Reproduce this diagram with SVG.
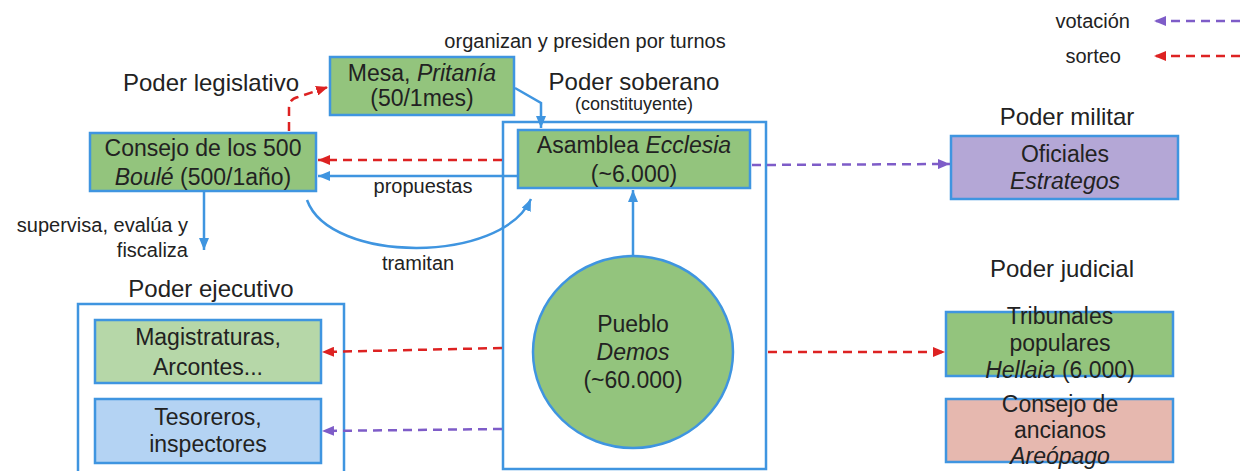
<svg xmlns="http://www.w3.org/2000/svg" width="1240" height="471" viewBox="0 0 1240 471">
<style>
text{font-family:"Liberation Sans",Arial,sans-serif;fill:#222;}
.t{font-size:23px;text-anchor:middle;}
.h{font-size:24px;text-anchor:middle;}
.l{font-size:20px;}
.i{font-style:italic;}
.box{stroke:#3f95e0;stroke-width:2.5;}
.cont{fill:#fff;stroke:#3f95e0;stroke-width:2.5;}
.g{fill:#93c47d;}
.lg{fill:#b6d7a8;}
.lb{fill:#b4d3f3;}
.pu{fill:#b4a7d6;}
.pk{fill:#e6b8af;}
.cb{fill:none;stroke:#3f95e0;stroke-width:2.5;}
.cr{fill:none;stroke:#dd2222;stroke-width:2.5;stroke-dasharray:9 6;}
.cp{fill:none;stroke:#7e5cc8;stroke-width:2.5;stroke-dasharray:9 6;}
</style>
<defs>
<marker id="ab" viewBox="0 0 12 10" refX="12" refY="5" markerWidth="12" markerHeight="10" markerUnits="userSpaceOnUse" orient="auto"><path d="M0,0 L12,5 L0,10 z" fill="#3f95e0"/></marker>
<marker id="ar" viewBox="0 0 12 10" refX="12" refY="5" markerWidth="12" markerHeight="10" markerUnits="userSpaceOnUse" orient="auto"><path d="M0,0 L12,5 L0,10 z" fill="#dd2222"/></marker>
<marker id="ap" viewBox="0 0 12 10" refX="12" refY="5" markerWidth="12" markerHeight="10" markerUnits="userSpaceOnUse" orient="auto"><path d="M0,0 L12,5 L0,10 z" fill="#7e5cc8"/></marker>
</defs>

<!-- legend -->
<g id="legend">
<text class="l" x="1130" y="28" text-anchor="end">votación</text>
<text class="l" x="1121" y="63" text-anchor="end">sorteo</text>
<path class="cp" d="M1240,21 L1154,21" marker-end="url(#ap)"/>
<path class="cr" d="M1240,56 L1154,56" marker-end="url(#ar)"/>
</g>

<!-- titles -->
<g id="titles">
<text class="l" x="585" y="48" text-anchor="middle">organizan y presiden por turnos</text>
<text class="h" x="211" y="91">Poder legislativo</text>
<text class="h" x="634" y="90">Poder soberano</text>
<text x="634" y="110" style="font-size:18px;text-anchor:middle">(constituyente)</text>
<text class="h" x="1067" y="125">Poder militar</text>
<text class="h" x="1062" y="277">Poder judicial</text>
<text class="h" x="211" y="297">Poder ejecutivo</text>
</g>

<!-- containers -->
<g id="soberano"><rect class="cont" x="503" y="122" width="263" height="347"/></g>
<g id="ejecutivo"><rect class="cont" x="78" y="304" width="266" height="180"/></g>

<!-- nodes -->
<g id="mesa">
<rect class="box g" x="330" y="57" width="184" height="58"/>
<text class="t" x="422" y="81">Mesa, <tspan class="i">Pritanía</tspan></text>
<text class="t" x="422" y="106">(50/1mes)</text>
</g>
<g id="consejo500">
<rect class="box g" x="90" y="133" width="226" height="58"/>
<text class="t" x="203" y="156">Consejo de los 500</text>
<text class="t" x="203" y="185"><tspan class="i">Boulé</tspan> (500/1año)</text>
</g>
<g id="asamblea">
<rect class="box g" x="518" y="130" width="232" height="58"/>
<text class="t" x="634" y="153">Asamblea <tspan class="i">Ecclesia</tspan></text>
<text class="t" x="634" y="182">(~6.000)</text>
</g>
<g id="pueblo">
<ellipse class="box g" cx="633" cy="352" rx="100" ry="96"/>
<text class="t" x="633" y="332">Pueblo</text>
<text class="t i" x="633" y="360">Demos</text>
<text class="t" x="633" y="388">(~60.000)</text>
</g>
<g id="oficiales">
<rect class="box pu" x="951" y="136" width="227" height="63"/>
<text class="t" x="1065" y="162">Oficiales</text>
<text class="t i" x="1065" y="189">Estrategos</text>
</g>
<g id="magistraturas">
<rect class="box lg" x="95" y="320" width="226" height="63"/>
<text class="t" x="208" y="345">Magistraturas,</text>
<text class="t" x="208" y="375">Arcontes...</text>
</g>
<g id="tesoreros">
<rect class="box lb" x="95" y="399" width="226" height="64"/>
<text class="t" x="208" y="425">Tesoreros,</text>
<text class="t" x="208" y="452">inspectores</text>
</g>
<g id="tribunales">
<rect class="box g" x="946" y="312" width="227" height="64"/>
<text class="t" x="1060" y="324">Tribunales</text>
<text class="t" x="1060" y="351">populares</text>
<text class="t" x="1060" y="378"><tspan class="i">Hellaia</tspan> (6.000)</text>
</g>
<g id="areopago">
<rect class="box pk" x="946" y="399" width="227" height="63"/>
<text class="t" x="1060" y="412">Consejo de</text>
<text class="t" x="1060" y="438">ancianos</text>
<text class="t i" x="1060" y="464">Areópago</text>
</g>

<!-- connectors -->
<g id="connectors">
<path class="cr" d="M289,131 L289,108 Q289,99 298,97 L328,87" marker-end="url(#ar)"/>
<path class="cb" d="M515,88 L541,103 L541,128" marker-end="url(#ab)"/>
<path class="cr" d="M502,160 L318,160" marker-end="url(#ar)"/>
<path class="cb" d="M518,176 L318,176" marker-end="url(#ab)"/>
<text class="l" x="423" y="193" text-anchor="middle">propuestas</text>
<path class="cb" d="M307,200 C330,264 502,264 531,199" marker-end="url(#ab)"/>
<text class="l" x="418" y="270" text-anchor="middle">tramitan</text>
<path class="cb" d="M204,191 L204,250" marker-end="url(#ab)"/>
<text class="l" x="188" y="232" text-anchor="end">supervisa, evalúa y</text>
<text class="l" x="188" y="257" text-anchor="end">fiscaliza</text>
<path class="cb" d="M633,256 L633,190" marker-end="url(#ab)"/>
<path class="cp" d="M752,165 L950,164" marker-end="url(#ap)"/>
<path class="cr" d="M502,348 L322,352" marker-end="url(#ar)"/>
<path class="cp" d="M502,429 L322,431" marker-end="url(#ap)"/>
<path class="cr" d="M768,352 L945,352" marker-end="url(#ar)"/>
</g>
</svg>
